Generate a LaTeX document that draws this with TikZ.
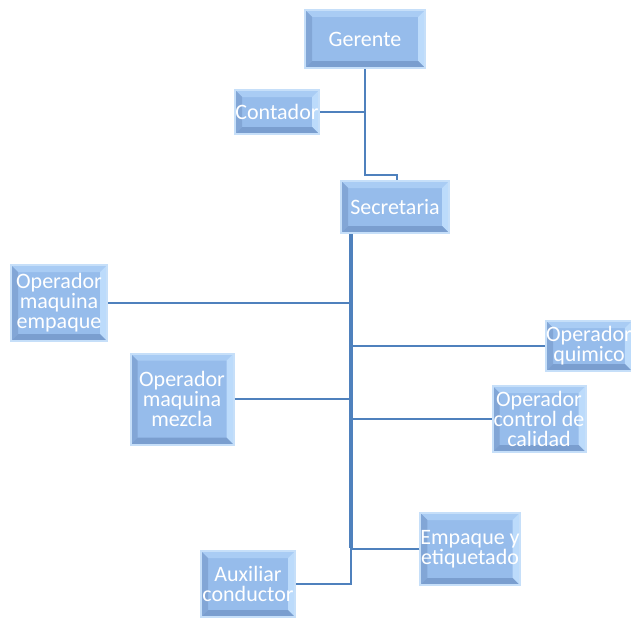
\documentclass[tikz,border=0pt]{standalone}
\usepackage{fontspec}
\newfontfamily\cfont{Carlito}
\definecolor{boxfill}{HTML}{96BCEB}
\definecolor{bevtop}{HTML}{A9CCF4}
\definecolor{bevleft}{HTML}{82A6D6}
\definecolor{bevright}{HTML}{BCDBFB}
\definecolor{bevbot}{HTML}{7A9ECF}
\definecolor{boxborder}{HTML}{C6DFF9}
\definecolor{linecol}{HTML}{4F81BD}
\begin{document}
\begin{tikzpicture}[x=1pt,y=-1pt,
  box/.style={draw=boxborder, line width=2pt, fill=boxfill, text=white,
    font=\cfont\fontsize{22}{20}\selectfont, align=center, inner sep=0pt,
    path picture={
      \fill[bevtop] (path picture bounding box.north west) -- (path picture bounding box.north east)
        -- ([xshift=-7pt,yshift=-7pt]path picture bounding box.north east) -- ([xshift=7pt,yshift=-7pt]path picture bounding box.north west) -- cycle;
      \fill[bevleft] (path picture bounding box.north west) -- ([xshift=7pt,yshift=-7pt]path picture bounding box.north west)
        -- ([xshift=7pt,yshift=7pt]path picture bounding box.south west) -- (path picture bounding box.south west) -- cycle;
      \fill[bevright] (path picture bounding box.north east) -- ([xshift=-7pt,yshift=-7pt]path picture bounding box.north east)
        -- ([xshift=-7pt,yshift=7pt]path picture bounding box.south east) -- (path picture bounding box.south east) -- cycle;
      \fill[bevbot] (path picture bounding box.south west) -- ([xshift=7pt,yshift=7pt]path picture bounding box.south west)
        -- ([xshift=-7pt,yshift=7pt]path picture bounding box.south east) -- (path picture bounding box.south east) -- cycle;
    }},
  conn/.style={draw=linecol, line width=2pt},
  trunk/.style={draw=linecol, line width=3.5pt}]
\useasboundingbox (0,0) rectangle (631,618);
\node[box, minimum width=120pt, minimum height=58pt] (ger) at (365,39) {Gerente};
\node[box, minimum width=84pt, minimum height=44pt] (cont) at (277,112) {Contador};
\node[box, minimum width=108pt, minimum height=52pt] (sec) at (395,207) {Secretaria};
\node[box, minimum width=96pt, minimum height=76pt] (opemp) at (59,303) {Operador\\maquina\\empaque};
\node[box, minimum width=79pt, minimum height=50pt] (qui) at (589,346) {Operador\\quimico};
\node[box, minimum width=103pt, minimum height=91pt] (mez) at (182,399) {Operador\\maquina\\mezcla};
\node[box, minimum width=93pt, minimum height=66pt] (cal) at (539,419) {Operador\\control de\\calidad};
\node[box, minimum width=98pt, minimum height=72pt] (emp) at (470,549) {Empaque y\\etiquetado};
\node[box, minimum width=94pt, minimum height=66pt] (aux) at (248,584) {Auxiliar\\conductor};
\coordinate (j1) at (365,175);
\coordinate (j2) at (397,175);
\coordinate (t0) at (351,234);
\coordinate (tb) at (351,548);
\draw[conn] (ger.south) -- (j1) -- (j2) -- (j2 |- sec.north);
\draw[conn] (cont.east) -- (cont.east -| j1);
\draw[trunk] (t0) -- (tb);
\draw[conn] (opemp.east) -- (opemp.east -| t0);
\draw[conn] (qui.west) -- (qui.west -| t0);
\draw[conn] (mez.east) -- (mez.east -| t0);
\draw[conn] (cal.west) -- (cal.west -| t0);
\draw[conn] (emp.west) -- (emp.west -| t0);
\draw[conn] (tb) |- (aux.east);
\end{tikzpicture}
\end{document}
